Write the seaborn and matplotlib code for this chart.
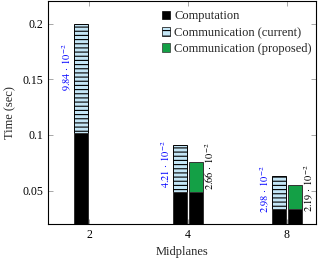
import numpy as np
import pandas as pd
import matplotlib
matplotlib.use("Agg")
import matplotlib.pyplot as plt
from matplotlib.patches import Patch
import seaborn as sns

# values
midplanes = ["2", "4", "8"]
computation = [0.1016, 0.0488, 0.0331]
comm_current = [0.0984, 0.0421, 0.0298]
comm_proposed = [np.nan, 0.0266, 0.0219]
label_current = [r"$9.84\,\cdot\,10^{-2}$", r"$4.21\,\cdot\,10^{-2}$", r"$2.98\,\cdot\,10^{-2}$"]
label_proposed = [None, r"$2.66\,\cdot\,10^{-2}$", r"$2.19\,\cdot\,10^{-2}$"]

rows = []
for i, m in enumerate(midplanes):
    rows.append(dict(midplanes=m, scheme="current", comp=computation[i],
                     total=computation[i] + comm_current[i]))
    if not np.isnan(comm_proposed[i]):
        rows.append(dict(midplanes=m, scheme="proposed", comp=computation[i],
                         total=computation[i] + comm_proposed[i]))
df = pd.DataFrame(rows)

sns.set_theme(style="ticks")
plt.rcParams['font.family'] = ['Liberation Serif', 'DejaVu Serif']
plt.rcParams['mathtext.fontset'] = 'stix'
plt.rcParams['hatch.linewidth'] = 0.8

light_blue = "#c4e6f6"
green = "#14a046"

fig = plt.figure(figsize=(3.2, 2.61), dpi=100)
ax = fig.add_axes([0.15, 0.142, 0.8375, 0.853])

hue_order = ["current", "proposed"]
sns.barplot(data=df, x="midplanes", y="total", hue="scheme", hue_order=hue_order,
            order=midplanes, palette={"current": light_blue, "proposed": green},
            saturation=1, width=0.33, gap=0.15, edgecolor="#333333", linewidth=0.7,
            errorbar=None, legend=False, ax=ax)
# current communication bars get the horizontal stripes
for p in ax.containers[0]:
    p.set_hatch("----")
    p.set_edgecolor("black")
sns.barplot(data=df, x="midplanes", y="comp", hue="scheme", hue_order=hue_order,
            order=midplanes, palette={"current": "black", "proposed": "black"},
            saturation=1, width=0.33, gap=0.15, edgecolor="#333333", linewidth=0.7,
            errorbar=None, legend=False, ax=ax)

for i in range(len(midplanes)):
    y = computation[i] + 0.6 * comm_current[i]
    ax.text(i - 0.23, y, label_current[i], rotation=90, ha="center", va="center",
            color="blue", fontsize=7.5)
    if label_proposed[i] is not None:
        y = computation[i] + 0.86 * comm_proposed[i]
        ax.text(i + 0.215, y, label_proposed[i], rotation=90, ha="center",
                va="center", color="black", fontsize=7.5)

ax.set_xlim(-0.414, 2.293)
ax.set_ylim(0.02, 0.22)
ax.set_yticks([0.05, 0.1, 0.15, 0.2])
ax.set_yticklabels(["0.05", "0.1", "0.15", "0.2"])
ax.tick_params(direction="in", top=True, right=True, length=3.5, width=0.6,
               color="#999999", labelsize=8.5, labelcolor="black")
for s in ax.spines.values():
    s.set_visible(True)
    s.set_color("black")
    s.set_linewidth(0.8)

ax.set_xlabel("Midplanes", fontsize=9)
ax.set_ylabel("Time (sec)", fontsize=9)

handles = [Patch(facecolor="black", edgecolor="black", linewidth=0.5),
           Patch(facecolor=light_blue, edgecolor="black", hatch="---", linewidth=0.5),
           Patch(facecolor=green, edgecolor="#333333", linewidth=0.5)]
ax.legend(handles, ["Computation", "Communication (current)", "Communication (proposed)"],
          loc="upper left", bbox_to_anchor=(0.415, 0.97), frameon=False, fontsize=9,
          handlelength=0.7, handleheight=0.7, handletextpad=0.3, labelspacing=0.35,
          borderpad=0.2, borderaxespad=0)

fig.savefig("out.png", dpi=100)
